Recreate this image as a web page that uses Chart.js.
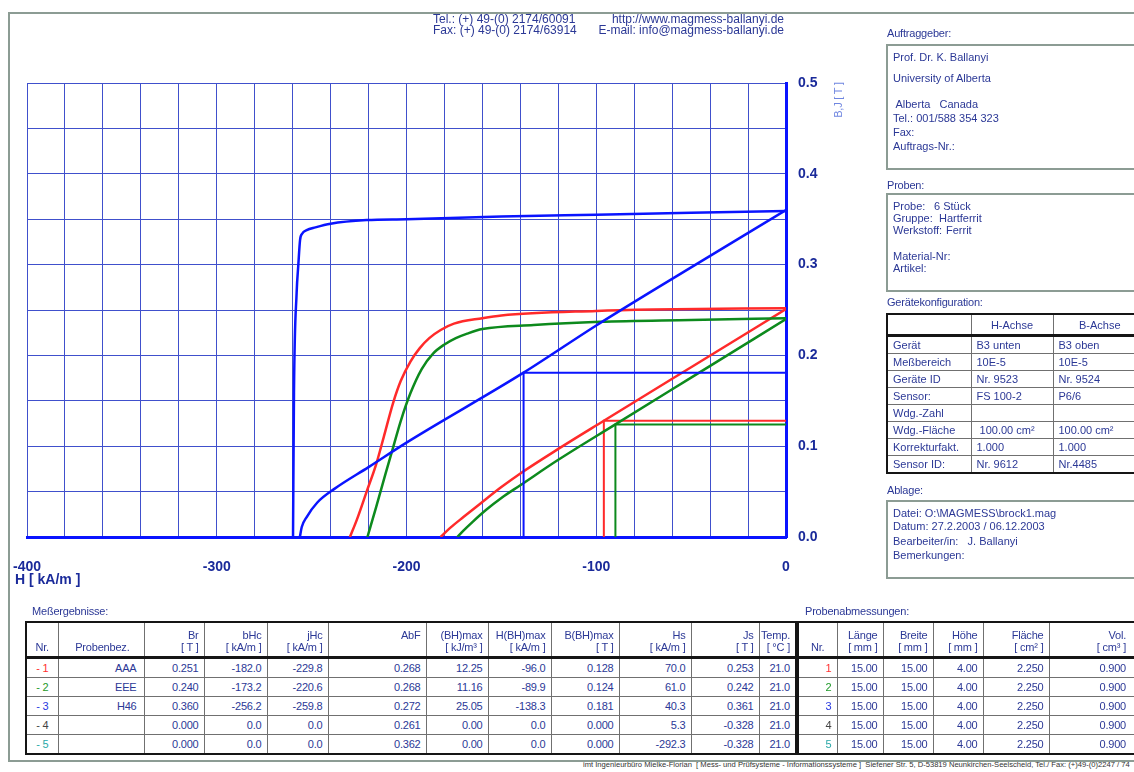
<!DOCTYPE html>
<html lang="de">
<head>
<meta charset="UTF-8">
<title>Entmagnetisierungskurven</title>
<script src="https://cdn.jsdelivr.net/npm/chart.js"></script>
<style>
    body { margin: 0; width: 1134px; height: 772px; overflow: hidden; background: #fff;
           font-family: "Liberation Sans", Arial, sans-serif; color: #2b3896; position: relative; }
    .t { position: absolute; font-size: 11px; line-height: 12px; white-space: pre; letter-spacing: -0.2px; }
    .line { position: absolute; background: #8c9c94; }
    .box { position: absolute; border: 2px solid #8c9c94; }
    #chart { position: absolute; left: 0; top: 0; }
    table { position: absolute; border-collapse: collapse; table-layout: fixed; font-size: 11px;
            color: #2b3896; letter-spacing: -0.2px; }
    td { border: 1px solid #707070; padding: 0 5px 0 0; text-align: right; height: 18px; line-height: 12px;
         white-space: nowrap; overflow: hidden; }
    table.res, table.abm, table.geraet { border: 2px solid #151515; }
    tr.kopf td { border-bottom: 3px solid #151515; vertical-align: bottom; padding-bottom: 3px; height: 30px; }
    table.geraet td { text-align: left; padding-left: 5px; height: 16px; letter-spacing: 0; }
    table.geraet tr.kopf td { text-align: center; vertical-align: middle; height: 19px; padding-bottom: 0; }
</style>
</head>
<body>
<div class="line" style="left:8px;top:12px;width:1126px;height:2px"></div>
<div class="line" style="left:8px;top:12px;width:2px;height:750px"></div>
<div class="line" style="left:8px;top:760px;width:1126px;height:2px"></div>

<canvas id="chart" width="860" height="600"></canvas>

<div class="t" style="left:15px;top:573px;font-size:14px;font-weight:bold;color:#1a2a9a;letter-spacing:0">H [ kA/m ]</div>
<div class="t" style="left:812px;top:94px;width:52px;text-align:center;color:#6f86e0;transform:rotate(-90deg)">B,J [ T ]</div>

<div id="seite"></div>

<script>
    // Messkurven (H in kA/m, B bzw. J in T)
    // Probe 3 - H46 (blau)
    const h46_J_H = [-259.8, -259.3, -257.9, -257.0, -256.1, -255.0, -252.6, -248, -240, -221, -200, -150, -100, -50, 0];
    const h46_J   = [0.0, 0.159, 0.269, 0.300, 0.327, 0.334, 0.338, 0.341, 0.345, 0.349, 0.350, 0.353, 0.355, 0.357, 0.359];
    const h46_B_H = [-256.2, -255.2, -252.6, -247, -238, -220, -200, -138.3, -100, -50, 0];
    const h46_B   = [0, 0.011, 0.022, 0.038, 0.053, 0.077, 0.104, 0.181, 0.233, 0.297, 0.360];

    // Probe 1 - AAA (rot)
    const aaa_J_H = [-229.8, -226, -221, -216, -212, -207, -203, -198, -193, -188, -182, -175, -160, -150, -100, -70, 0];
    const aaa_J   = [0, 0.020, 0.050, 0.080, 0.110, 0.148, 0.172, 0.193, 0.208, 0.219, 0.228, 0.235, 0.241, 0.244, 0.249, 0.2505, 0.252];
    const aaa_B_H = [-182.0, -177, -170, -161, -150, -140, -120, -96, -50, 0];
    const aaa_B   = [0, 0.010, 0.022, 0.037, 0.055, 0.070, 0.097, 0.128, 0.187, 0.251];

    // Probe 2 - EEE (gruen)
    const eee_J_H = [-220.6, -216, -211, -207, -203, -198, -192, -186, -180, -174, -168, -160, -133, -98, -50, 0];
    const eee_J   = [0, 0.033, 0.070, 0.099, 0.128, 0.158, 0.185, 0.202, 0.212, 0.219, 0.224, 0.229, 0.2335, 0.237, 0.239, 0.241];
    const eee_B_H = [-173.2, -170, -165, -158, -150, -140, -120, -89.9, -50, 0];
    const eee_B   = [0, 0.007, 0.017, 0.030, 0.043, 0.057, 0.085, 0.124, 0.1755, 0.240];

    // Messergebnisse
    const nr        = ['- 1', '- 2', '- 3', '- 4', '- 5'];
    const probenbez = ['AAA', 'EEE', 'H46', '', ''];
    const br        = [0.251, 0.240, 0.360, 0.000, 0.000];
    const bHc       = [-182.0, -173.2, -256.2, 0.0, 0.0];
    const jHc       = [-229.8, -220.6, -259.8, 0.0, 0.0];
    const abf       = [0.268, 0.268, 0.272, 0.261, 0.362];
    const bhMax     = [12.25, 11.16, 25.05, 0.00, 0.00];
    const hBHmax    = [-96.0, -89.9, -138.3, 0.0, 0.0];
    const bBHmax    = [0.128, 0.124, 0.181, 0.000, 0.000];
    const hs        = [70.0, 61.0, 40.3, 5.3, -292.3];
    const js        = [0.253, 0.242, 0.361, -0.328, -0.328];
    const temp      = [21.0, 21.0, 21.0, 21.0, 21.0];

    // Probenabmessungen
    const laenge  = [15.00, 15.00, 15.00, 15.00, 15.00];
    const breite  = [15.00, 15.00, 15.00, 15.00, 15.00];
    const hoehe   = [4.00, 4.00, 4.00, 4.00, 4.00];
    const flaeche = [2.250, 2.250, 2.250, 2.250, 2.250];
    const vol     = [0.900, 0.900, 0.900, 0.900, 0.900];

    const probenFarben = ['#ff3030', '#1f9a2a', '#2a3ae0', '#444444', '#2aa8a8'];
    const BLAU = '#0a14ff', ROT = '#ff2a2a', GRUEN = '#0d8a1d';

    const seite = document.getElementById('seite');

    function put(text, x, y, css) {
        const d = document.createElement('div');
        d.className = 't';
        d.textContent = text;
        d.style.left = x + 'px';
        d.style.top = (y - 6) + 'px';
        if (css) d.style.cssText += css;
        seite.appendChild(d);
    }
    function box(x, y, w, h) {
        const d = document.createElement('div');
        d.className = 'box';
        d.style.cssText = `left:${x}px;top:${y}px;width:${w}px;height:${h}px`;
        seite.appendChild(d);
    }

    // Kopfzeile
    const kopfCss = 'font-size:12px;line-height:11px;letter-spacing:0';
    put('Tel.: (+) 49-(0) 2174/60091', 433, 20, kopfCss);
    put('Fax: (+) 49-(0) 2174/63914', 433, 31, kopfCss);
    put('http://www.magmess-ballanyi.de', 574, 20, kopfCss + ';width:210px;text-align:right');
    put('E-mail: info@magmess-ballanyi.de', 574, 31, kopfCss + ';width:210px;text-align:right');

    // Auftraggeber
    const feldCss = 'letter-spacing:0';
    put('Auftraggeber:', 887, 33);
    box(886, 44, 260, 122);
    put('Prof. Dr. K. Ballanyi', 893, 57, feldCss);
    put('University of Alberta', 893, 78, feldCss);
    put(' Alberta   Canada', 893, 104, feldCss);
    put('Tel.: 001/588 354 323', 893, 118, feldCss);
    put('Fax:', 893, 132, feldCss);
    put('Auftrags-Nr.:', 893, 146, feldCss);

    // Proben
    put('Proben:', 887, 185);
    box(886, 193, 260, 95);
    put('Probe:', 893, 206, feldCss); put('6 Stück', 934, 206, feldCss);
    put('Gruppe:', 893, 218, feldCss); put('Hartferrit', 939, 218, feldCss);
    put('Werkstoff:', 893, 230, feldCss); put('Ferrit', 946, 230, feldCss);
    put('Material-Nr:', 893, 256, feldCss);
    put('Artikel:', 893, 268, feldCss);

    // Geraetekonfiguration
    put('Gerätekonfiguration:', 887, 302);
    const geraetZeilen = [
        ['Gerät', 'B3 unten', 'B3 oben'],
        ['Meßbereich', '10E-5', '10E-5'],
        ['Geräte ID', 'Nr. 9523', 'Nr. 9524'],
        ['Sensor:', 'FS 100-2', 'P6/6'],
        ['Wdg.-Zahl', '', ''],
        ['Wdg.-Fläche', ' 100.00 cm²', '100.00 cm²'],
        ['Korrekturfakt.', '1.000', '1.000'],
        ['Sensor ID:', 'Nr. 9612', 'Nr.4485']
    ];
    let g = '<colgroup><col style="width:84px"><col style="width:82px"><col style="width:94px"></colgroup>';
    g += '<tr class="kopf"><td></td><td>H-Achse</td><td>B-Achse</td></tr>';
    geraetZeilen.forEach(z => { g += `<tr><td>${z[0]}</td><td style="white-space:pre">${z[1]}</td><td>${z[2]}</td></tr>`; });
    const gt = document.createElement('table');
    gt.className = 'geraet';
    gt.style.cssText = 'left:886px;top:313px;width:260px';
    gt.innerHTML = g;
    seite.appendChild(gt);

    // Ablage
    put('Ablage:', 887, 490);
    box(886, 500, 260, 75);
    put('Datei: O:\\MAGMESS\\brock1.mag', 893, 513, feldCss);
    put('Datum: 27.2.2003 / 06.12.2003', 893, 526, feldCss);
    put('Bearbeiter/in:   J. Ballanyi', 893, 541, feldCss);
    put('Bemerkungen:', 893, 555, feldCss);

    // Messergebnisse
    put('Meßergebnisse:', 32, 611);
    const resBreiten = [32, 86, 60, 63, 61, 98, 62, 63, 68, 72, 68, 37];
    const resKopf = [['', 'Nr.'], ['', 'Probenbez.'], ['Br', '[ T ]'], ['bHc', '[ kA/m ]'], ['jHc', '[ kA/m ]'],
        ['AbF', ''], ['(BH)max', '[ kJ/m³ ]'], ['H(BH)max', '[ kA/m ]'], ['B(BH)max', '[ T ]'],
        ['Hs', '[ kA/m ]'], ['Js', '[ T ]'], ['Temp.', '[ °C ]']];
    let r = '<colgroup>' + resBreiten.map(w => `<col style="width:${w}px">`).join('') + '</colgroup>';
    r += '<tr class="kopf">' + resKopf.map((k, i) =>
        `<td style="${i === 0 ? 'text-align:center;padding:0 0 3px 0' : i === 1 ? 'padding-right:14px' : ''}">${k[0]}<br>${k[1] || '&nbsp;'}</td>`).join('') + '</tr>';
    for (let i = 0; i < nr.length; i++) {
        r += '<tr>' +
            `<td style="text-align:center;padding:0;color:${probenFarben[i]}">${nr[i]}</td>` +
            `<td style="padding-right:7px">${probenbez[i]}</td>` +
            `<td>${br[i].toFixed(3)}</td><td>${bHc[i].toFixed(1)}</td><td>${jHc[i].toFixed(1)}</td>` +
            `<td>${abf[i].toFixed(3)}</td><td>${bhMax[i].toFixed(2)}</td><td>${hBHmax[i].toFixed(1)}</td>` +
            `<td>${bBHmax[i].toFixed(3)}</td><td>${hs[i].toFixed(1)}</td><td>${js[i].toFixed(3)}</td>` +
            `<td>${temp[i].toFixed(1)}</td></tr>`;
    }
    const rt = document.createElement('table');
    rt.className = 'res';
    rt.style.cssText = 'left:25px;top:621px;width:770px';
    rt.innerHTML = r;
    seite.appendChild(rt);

    // Probenabmessungen
    put('Probenabmessungen:', 805, 611);
    const abmBreiten = [39, 46, 50, 50, 66, 90];
    const abmKopf = [['', 'Nr.'], ['Länge', '[ mm ]'], ['Breite', '[ mm ]'], ['Höhe', '[ mm ]'],
        ['Fläche', '[ cm² ]'], ['Vol.', '[ cm³ ]']];
    let a = '<colgroup>' + abmBreiten.map(w => `<col style="width:${w}px">`).join('') + '</colgroup>';
    a += '<tr class="kopf">' + abmKopf.map((k, i) =>
        `<td style="${i === 0 ? 'text-align:center;padding:0 0 3px 0' : i === 5 ? 'padding-right:12px' : ''}">${k[0]}<br>${k[1] || '&nbsp;'}</td>`).join('') + '</tr>';
    for (let i = 0; i < laenge.length; i++) {
        a += '<tr>' +
            `<td style="color:${probenFarben[i]}">${i + 1}</td>` +
            `<td>${laenge[i].toFixed(2)}</td><td>${breite[i].toFixed(2)}</td><td>${hoehe[i].toFixed(2)}</td>` +
            `<td>${flaeche[i].toFixed(3)}</td><td style="padding-right:12px">${vol[i].toFixed(3)}</td></tr>`;
    }
    const at = document.createElement('table');
    at.className = 'abm';
    at.style.cssText = 'left:797px;top:621px;width:341px';
    at.innerHTML = a;
    seite.appendChild(at);

    // Fusszeile
    put('imt Ingenieurbüro Mielke-Florian  [ Mess- und Prüfsysteme - Informationssysteme ]  Siefener Str. 5, D-53819 Neunkirchen-Seelscheid, Tel./ Fax: (+)49-(0)2247 / 74',
        583, 767, 'font-size:7.6px;line-height:8px;color:#333;letter-spacing:0');

    // Diagramm
    function kurve(hWerte, bWerte) {
        return hWerte.map((h, i) => ({ x: h, y: bWerte[i] }));
    }
    function bhRechteck(i) {
        return [{ x: hBHmax[i], y: 0 }, { x: hBHmax[i], y: bBHmax[i] }, { x: 0, y: bBHmax[i] }];
    }
    const glatt = { showLine: true, pointRadius: 0, borderWidth: 2.5, cubicInterpolationMode: 'monotone' };
    const eckig = { showLine: true, pointRadius: 0, borderWidth: 2, tension: 0 };

    new Chart(document.getElementById('chart'), {
        type: 'scatter',
        data: {
            datasets: [
                { ...glatt, data: kurve(h46_J_H, h46_J), borderColor: BLAU },
                { ...glatt, data: kurve(h46_B_H, h46_B), borderColor: BLAU },
                { ...eckig, data: bhRechteck(2), borderColor: BLAU },
                { ...glatt, data: kurve(eee_J_H, eee_J), borderColor: GRUEN },
                { ...glatt, data: kurve(eee_B_H, eee_B), borderColor: GRUEN },
                { ...eckig, data: bhRechteck(1), borderColor: GRUEN },
                { ...glatt, data: kurve(aaa_J_H, aaa_J), borderColor: ROT },
                { ...glatt, data: kurve(aaa_B_H, aaa_B), borderColor: ROT },
                { ...eckig, data: bhRechteck(0), borderColor: ROT }
            ]
        },
        options: {
            responsive: false,
            animation: false,
            layout: { padding: { left: 27, top: 83, right: 0, bottom: 0 } },
            plugins: { legend: { display: false }, tooltip: { enabled: false } },
            scales: {
                x: {
                    type: 'linear', min: -400, max: 0,
                    afterFit: s => { s.height = 63; s.paddingLeft = 0; s.paddingRight = 0; },
                    grid: { color: '#4050cc', lineWidth: 1, drawTicks: false },
                    border: { color: BLAU, width: 3 },
                    ticks: {
                        stepSize: 20, autoSkip: false, maxRotation: 0, padding: 22,
                        color: '#1a2a9a', font: { family: 'Liberation Sans', size: 14, weight: 'bold' },
                        callback: v => (v % 100 === 0 ? v : '')
                    }
                },
                y: {
                    type: 'linear', position: 'right', min: 0, max: 0.5,
                    afterFit: s => { s.width = 74; s.paddingTop = 0; s.paddingBottom = 0; },
                    grid: { color: '#4050cc', lineWidth: 1, drawTicks: false },
                    border: { color: BLAU, width: 3 },
                    ticks: {
                        stepSize: 0.05, autoSkip: false, padding: 12,
                        color: '#1a2a9a', font: { family: 'Liberation Sans', size: 14, weight: 'bold' },
                        callback: v => (Math.round(v * 100) % 10 === 0 ? v.toFixed(1) : '')
                    }
                }
            }
        }
    });
</script>
</body>
</html>
